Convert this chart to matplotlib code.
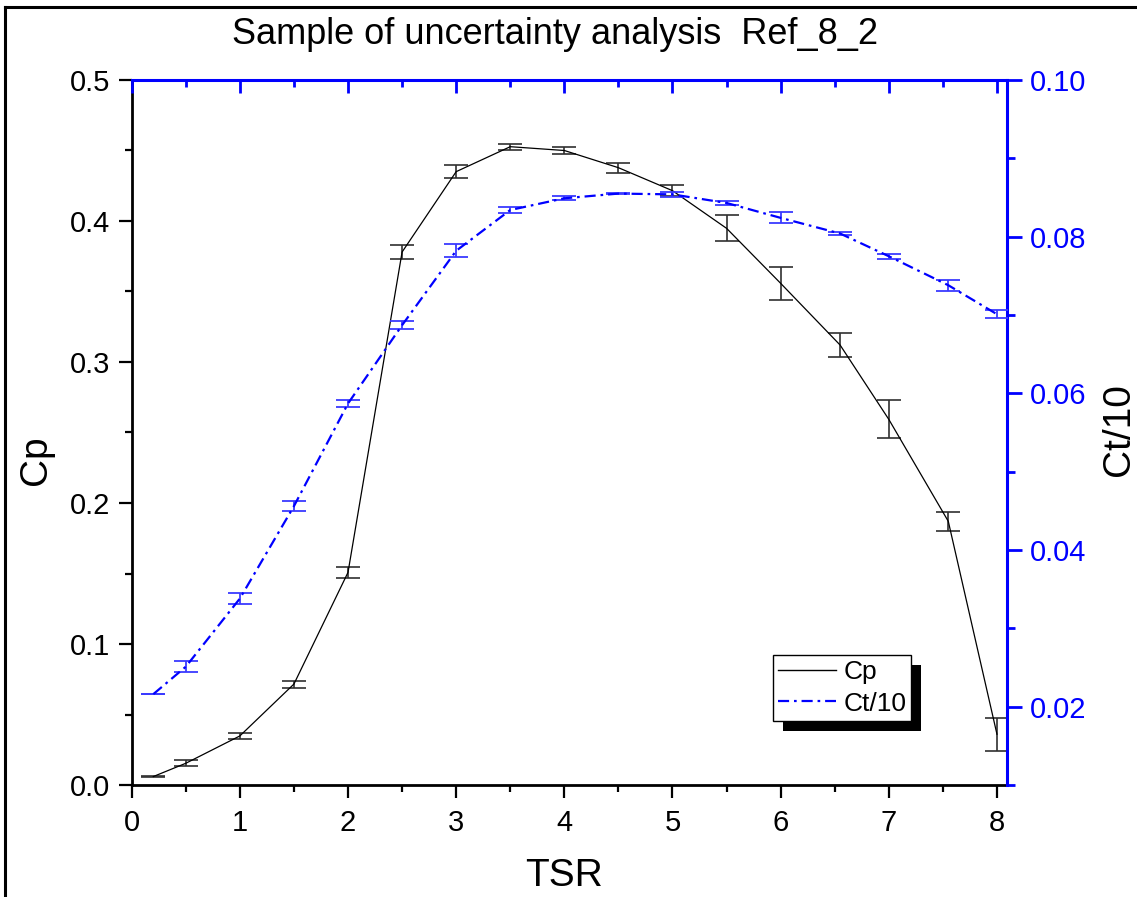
import matplotlib
matplotlib.use("Agg")
import matplotlib.pyplot as plt
from matplotlib.lines import Line2D
from matplotlib.patches import Rectangle
from matplotlib.ticker import MultipleLocator, FormatStrFormatter

plt.rcParams['font.family'] = ['Liberation Sans', 'DejaVu Sans']

# data
tsr = [0.2, 0.5, 1.0, 1.5, 2.0, 2.5, 3.0, 3.5, 4.0, 4.5, 5.0, 5.5, 6.0, 6.55, 7.0, 7.55, 8.0]
cp = [0.006, 0.0154, 0.0348, 0.0716, 0.1508, 0.378, 0.435, 0.4527, 0.450, 0.4378,
      0.4215, 0.3948, 0.3558, 0.312, 0.2593, 0.187, 0.036]
cp_err = [0.0003, 0.0022, 0.0024, 0.0025, 0.0039, 0.0048, 0.0045, 0.002, 0.0028, 0.0035,
          0.004, 0.0092, 0.0117, 0.0084, 0.0134, 0.0067, 0.0116]
ct10 = [0.0216, 0.0251, 0.0338, 0.0456, 0.0587, 0.0687, 0.0782, 0.0834, 0.0849, 0.0855,
        0.0854, 0.0843, 0.0824, 0.0804, 0.0775, 0.0738, 0.0701]
ct10_err = [0.00003, 0.0007, 0.0007, 0.00064, 0.0005, 0.0005, 0.00085, 0.0004, 0.00025, 0.00005,
            0.0003, 0.00025, 0.0007, 0.00025, 0.0003, 0.0007, 0.0005]

W, H = 1137, 897
fig = plt.figure(figsize=(W / 100, H / 100), dpi=100)
ax = fig.add_axes([131.7 / W, 1 - 785 / H, 875 / W, 705 / H])
ax2 = ax.twinx()
ax.patch.set_visible(False)
ax2.patch.set_visible(False)

blue = '#0000ff'
fs = 21
dashdot = (0, (5, 2.2, 1.2, 2.2))

ax.errorbar(tsr, cp, yerr=cp_err, color='black', lw=0.9, ecolor='#303030',
            elinewidth=1.2, capsize=8.5, capthick=1.2, zorder=3)
ax2.errorbar(tsr, ct10, yerr=ct10_err, color=blue, lw=1.6, ls=dashdot,
             ecolor='#3a3aff', elinewidth=1.3, capsize=8.5, capthick=1.3, zorder=3)

ax.set_xlim(0, 8.09)
ax.set_ylim(0, 0.5)
ax2.set_ylim(0.01, 0.10)

ax.xaxis.set_major_locator(MultipleLocator(1))
ax.xaxis.set_minor_locator(MultipleLocator(0.5))
ax.yaxis.set_major_locator(MultipleLocator(0.1))
ax.yaxis.set_minor_locator(MultipleLocator(0.05))
ax.yaxis.set_major_formatter(FormatStrFormatter('%.1f'))
ax2.yaxis.set_major_locator(MultipleLocator(0.02))
ax2.yaxis.set_minor_locator(MultipleLocator(0.01))
ax2.yaxis.set_major_formatter(FormatStrFormatter('%.2f'))

# spines
for sp in ['top', 'right']:
    ax.spines[sp].set_visible(False)
ax.spines['left'].set_linewidth(2.0)
ax.spines['bottom'].set_linewidth(2.0)
ax2.spines['left'].set_visible(False)
ax2.spines['bottom'].set_visible(False)
ax2.spines['right'].set_color(blue)
ax2.spines['right'].set_linewidth(2.2)
ax2.spines['top'].set_color(blue)
ax2.spines['top'].set_linewidth(2.2)

ax.tick_params(axis='both', which='major', direction='out', length=9.5, width=1.6,
               labelsize=fs, top=False, right=False)
ax.tick_params(axis='both', which='minor', direction='out', length=5, width=1.6,
               top=False, right=False)
ax.tick_params(axis='x', which='major', pad=8)
ax.tick_params(axis='y', which='major', pad=6)

ax2.tick_params(axis='y', which='major', direction='out', length=10.5, width=2,
                color=blue, labelcolor=blue, labelsize=fs, pad=6)
ax2.tick_params(axis='y', which='minor', direction='out', length=5.5, width=2, color=blue)

# top axis (blue, inward ticks)
ax2.xaxis.set_visible(True)
ax2.tick_params(axis='x', which='both', bottom=False, top=True, labelbottom=False,
                labeltop=False, direction='in', color=blue, width=2)
ax2.tick_params(axis='x', which='major', length=9.5)
ax2.tick_params(axis='x', which='minor', length=5)

# axis titles and chart title
fig.text(564 / W, 1 - 876 / H, 'TSR', fontsize=28, ha='center', va='center')
fig.text(36 / W, 1 - 460 / H, 'Cp', fontsize=28, ha='center', va='center', rotation=90)
fig.text(1119 / W, 1 - 430 / H, 'Ct/10', fontsize=28, ha='center', va='center', rotation=90)
fig.text(555 / W, 1 - 34 / H, 'Sample of uncertainty analysis  Ref_8_2',
         fontsize=26, ha='center', va='center')

# legend with solid black drop shadow
handles = [Line2D([], [], color='black', lw=1.0),
           Line2D([], [], color=blue, lw=1.6, ls=dashdot)]
leg = ax2.legend(handles, ['Cp', 'Ct/10'], loc='lower left',
                 bbox_to_anchor=(0.7326, 0.0908), borderaxespad=0, fontsize=19,
                 fancybox=False, framealpha=1, edgecolor='black', handlelength=2.2,
                 handletextpad=0.27, labelspacing=0.3, borderpad=0.2)
leg.get_frame().set_linewidth(1.0)
leg.set_zorder(10)

fig.canvas.draw()
bb = leg.get_window_extent()
inv = ax2.transAxes.inverted()
(x0, y0), (x1, y1) = inv.transform([(bb.x0 + 10, bb.y0 - 10), (bb.x1 + 10, bb.y1 - 10)])
ax2.add_patch(Rectangle((x0, y0), x1 - x0, y1 - y0, transform=ax2.transAxes,
                        facecolor='black', edgecolor='none', zorder=9, clip_on=False))

# outer frame of the exported graph page
fig.add_artist(Line2D([5 / W, 5 / W], [0, 1 - 7 / H], color='black', lw=2.2,
                      transform=fig.transFigure))
fig.add_artist(Line2D([5 / W, 1], [1 - 7 / H, 1 - 7 / H], color='black', lw=2.2,
                      transform=fig.transFigure))

fig.savefig('out.png', dpi=100)
